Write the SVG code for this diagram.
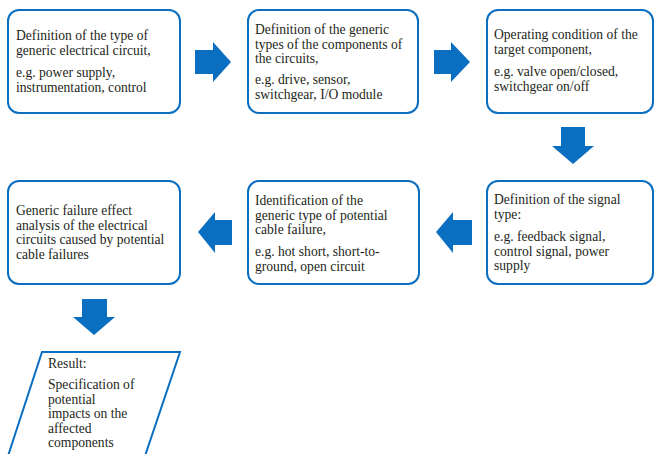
<svg xmlns="http://www.w3.org/2000/svg" width="655" height="454" viewBox="0 0 655 454">
<style>
.box{fill:#fff;stroke:#0a6ec1;stroke-width:2}
.arr{fill:#0a6ec1}
.t{font-family:'Liberation Serif','Times New Roman',serif;font-size:13.6px;fill:#231f20}
</style>
<rect width="655" height="454" fill="#fff"/>
<g id="connectors">
<polygon class="arr" points="195,50 213,50 213,42 231,62 213,82 213,74 195,74"/>
<polygon class="arr" points="434,50 451,50 451,42 470,62 451,82 451,74 434,74"/>
<polygon class="arr" points="561,127 585,127 585,146 594,146 573,164 552,146 561,146"/>
<polygon class="arr" points="472,220 453,220 453,212 436,232 453,253 453,245 472,245"/>
<polygon class="arr" points="232,220 215,220 215,212 198,232 215,253 215,245 232,245"/>
<polygon class="arr" points="82,299 107,299 107,317 115,317 94,335 73,317 82,317"/>
</g>
<g id="n1" class="t">
<rect class="box" x="8" y="10" width="172" height="103" rx="11"/>
<text x="16" y="40">Definition of the type of</text>
<text x="16" y="54.5">generic electrical circuit,</text>
<text x="16" y="77">e.g. power supply,</text>
<text x="16" y="91.5">instrumentation, control</text>
</g>
<g id="n2" class="t">
<rect class="box" x="248" y="10" width="170" height="103" rx="11"/>
<text x="255" y="34">Definition of the generic</text>
<text x="255" y="48.5">types of the components of</text>
<text x="255" y="63">the circuits,</text>
<text x="255" y="84">e.g. drive, sensor,</text>
<text x="255" y="98.5">switchgear, I/O module</text>
</g>
<g id="n3" class="t">
<rect class="box" x="487" y="10" width="166" height="103" rx="11"/>
<text x="494" y="39">Operating condition of the</text>
<text x="494" y="53.5">target component,</text>
<text x="494" y="76">e.g. valve open/closed,</text>
<text x="494" y="90.5">switchgear on/off</text>
</g>
<g id="n4" class="t">
<rect class="box" x="487" y="181" width="166" height="103" rx="11"/>
<text x="494" y="204">Definition of the signal</text>
<text x="494" y="218.5">type:</text>
<text x="494" y="241">e.g. feedback signal,</text>
<text x="494" y="255.5">control signal, power</text>
<text x="494" y="270">supply</text>
</g>
<g id="n5" class="t">
<rect class="box" x="248" y="181" width="171" height="103" rx="11"/>
<text x="255" y="205">Identification of the</text>
<text x="255" y="219.5">generic type of potential</text>
<text x="255" y="234">cable failure,</text>
<text x="255" y="256">e.g. hot short, short-to-</text>
<text x="255" y="270.5">ground, open circuit</text>
</g>
<g id="n6" class="t">
<rect class="box" x="8" y="181" width="172" height="103" rx="11"/>
<text x="16" y="215">Generic failure effect</text>
<text x="16" y="229.5">analysis of the electrical</text>
<text x="16" y="244">circuits caused by potential</text>
<text x="16" y="258.5">cable failures</text>
</g>
<g id="n7" class="t">
<polygon class="box" points="42,352 180,352 145,456 8,456"/>
<text x="48" y="368">Result:</text>
<text x="48" y="389">Specification of</text>
<text x="48" y="403.5">potential</text>
<text x="48" y="418">impacts on the</text>
<text x="48" y="432.5">affected</text>
<text x="48" y="447">components</text>
</g>
</svg>
